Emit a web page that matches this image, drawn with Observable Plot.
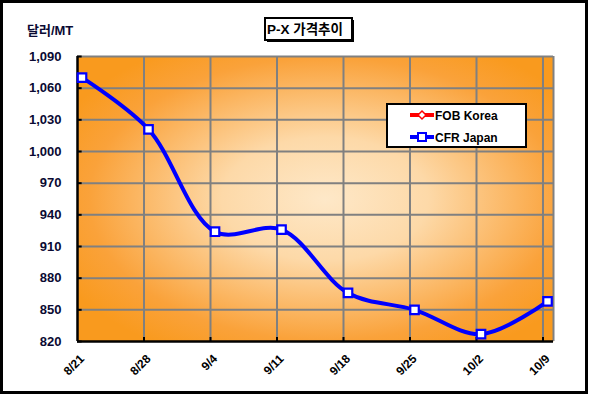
<!DOCTYPE html>
<html>
<head>
<meta charset="utf-8">
<script src="https://cdn.jsdelivr.net/npm/d3@7"></script>
<script src="https://cdn.jsdelivr.net/npm/@observablehq/plot@0.6"></script>
<style>
  html, body { margin: 0; padding: 0; background: #fff; }
  #chart svg { display: block; }
</style>
</head>
<body>
<div id="chart"></div>
<script>
// ---- data ----
const dates = ["8/21", "8/28", "9/4", "9/11", "9/18", "9/25", "10/2", "10/9"];
const cfrJapan = [1070, 1021, 924, 926, 866, 850, 827, 858];
const fobKorea = []; // no visible values in the reference
const seriesNames = ["FOB Korea", "CFR Japan"];
const seriesColors = ["#ff0000", "#0000ff"];
const yTicks = [820, 850, 880, 910, 940, 970, 1000, 1030, 1060, 1090];
const titleText = "P-X 가격추이";
const unitText = "달러/MT";

const FONT = "'Liberation Sans', Arial, 'Noto Sans CJK KR', sans-serif";
const off = 0.068;
const xmin = -off, xmax = 7.09;
const data = cfrJapan.map((v, i) => ({i, v, d: dates[i]}));
const gridX = dates.map((d, i) => i - off).slice(1);

const plot = Plot.plot({
  width: 589,
  height: 398,
  marginLeft: 77,
  marginRight: 36,
  marginTop: 56,
  marginBottom: 57,
  style: {background: "transparent", fontFamily: FONT},
  x: {type: "linear", domain: [xmin, xmax], axis: null},
  y: {domain: [820, 1090], axis: null},
  marks: [
    Plot.frame({fill: "url(#bg)", stroke: "none"}),
    Plot.ruleY(yTicks.slice(1), {stroke: "#808080", strokeWidth: 2}),
    Plot.ruleX(gridX, {stroke: "#808080", strokeWidth: 2}),
    Plot.ruleX([xmax], {stroke: "#808080", strokeWidth: 2}),
    Plot.ruleX([xmin], {stroke: "#000", strokeWidth: 2.5}),
    Plot.ruleY([820], {stroke: "#000", strokeWidth: 2.5}),
    Plot.ruleY(yTicks, {x1: xmin, x2: xmin + 0.07, stroke: "#000", strokeWidth: 2}),
    Plot.ruleX(gridX, {y1: 820, y2: 823.8, stroke: "#000", strokeWidth: 2}),
    Plot.text(yTicks, {x: xmin, y: d => d, text: d => d3.format(",")(d), textAnchor: "end", dx: -16, fontWeight: "bold", fontSize: 13, fill: "#0a0a33"}),
    Plot.text(data, {x: "i", y: 820, text: "d", rotate: -45, textAnchor: "end", lineAnchor: "bottom", dx: 3, dy: 18, fontWeight: "bold", fontSize: 12, fill: "#000"}),
    Plot.line(data, {x: "i", y: "v", curve: "catmull-rom", stroke: seriesColors[1], strokeWidth: 4}),
    Plot.dot(data, {x: "i", y: "v", symbol: "square", r: 4.8, fill: "#fff", stroke: seriesColors[1], strokeWidth: 2.2})
  ]
});

const svg = d3.select(plot);
const defs = svg.insert("defs", ":first-child");
const g = defs.append("radialGradient").attr("id", "bg")
  .attr("cx", 0.52).attr("cy", 0.5).attr("r", 0.62).attr("fx", 0.52).attr("fy", 0.5);
g.append("stop").attr("offset", 0).attr("stop-color", "#fee8c8");
g.append("stop").attr("offset", 0.35).attr("stop-color", "#fdd9a8");
g.append("stop").attr("offset", 0.8).attr("stop-color", "#faa23a");
g.append("stop").attr("offset", 1).attr("stop-color", "#f99a1e");

// outer border
svg.append("rect").attr("x", 1.5).attr("y", 1.5).attr("width", 585).attr("height", 391)
  .attr("fill", "none").attr("stroke", "#000").attr("stroke-width", 3);

// unit label
svg.append("text").attr("x", 27).attr("y", 35).text(unitText).attr("text-anchor", "start")
  .attr("font-family", FONT).attr("font-weight", "bold").attr("font-size", 13).attr("fill", "#0a0a33");

// title box
svg.append("rect").attr("x", 267).attr("y", 20).attr("width", 87).attr("height", 22)
  .attr("fill", "#000");
svg.append("rect").attr("x", 265).attr("y", 18).attr("width", 87).attr("height", 22)
  .attr("fill", "#fff").attr("stroke", "#000").attr("stroke-width", 2);
svg.append("text").attr("x", 267).attr("y", 34).text(titleText).attr("text-anchor", "start")
  .attr("font-family", FONT).attr("font-weight", "bold").attr("font-size", 13.5).attr("fill", "#000");

// legend
const lg = svg.append("g");
lg.append("rect").attr("x", 387).attr("y", 104).attr("width", 139).attr("height", 43)
  .attr("fill", "#fff").attr("stroke", "#000").attr("stroke-width", 2);
seriesNames.forEach((name, k) => {
  const cy = 115 + k * 22;
  lg.append("line").attr("x1", 410).attr("x2", 434).attr("y1", cy).attr("y2", cy)
    .attr("stroke", seriesColors[k]).attr("stroke-width", 4);
  if (k === 0) {
    lg.append("path").attr("d", `M422,${cy-4}L426,${cy}L422,${cy+4}L418,${cy}Z`)
      .attr("fill", "#fff").attr("stroke", seriesColors[k]).attr("stroke-width", 1.5);
  } else {
    lg.append("rect").attr("x", 418).attr("y", cy - 4).attr("width", 8).attr("height", 8)
      .attr("fill", "#fff").attr("stroke", seriesColors[k]).attr("stroke-width", 2);
  }
  lg.append("text").attr("x", 435).attr("y", cy + 4.5).text(name).attr("text-anchor", "start")
    .attr("font-family", FONT).attr("font-weight", "bold").attr("font-size", 12).attr("fill", "#000");
});

document.getElementById("chart").appendChild(plot);
</script>
</body>
</html>
